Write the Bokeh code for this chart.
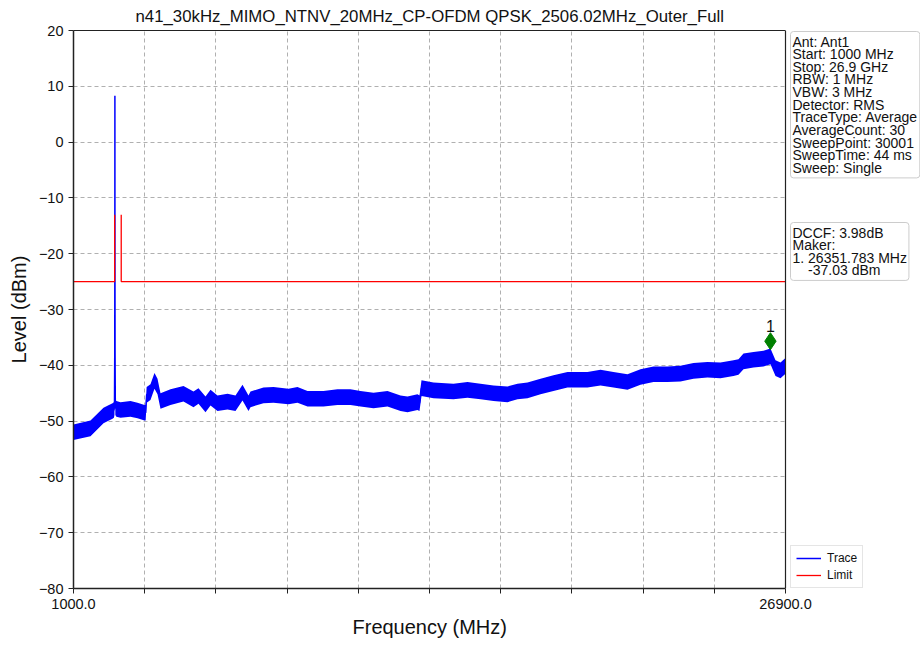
from bokeh.plotting import figure
from bokeh.models import (Range1d, FixedTicker, Label, Legend, LegendItem, ColumnDataSource,
                          LinearAxis, Span, BoxAnnotation, Title)
from bokeh.core.properties import value
from bokeh.embed import file_html
from bokeh.resources import INLINE

# ---------------- data ----------------
title_text = "n41_30kHz_MIMO_NTNV_20MHz_CP-OFDM QPSK_2506.02MHz_Outer_Full"
x_label = "Frequency (MHz)"
y_label = "Level (dBm)"

f_start, f_stop = 1000, 26900
y_min, y_max = -80, 20

trace_freq = [1000, 1618, 2091, 2419, 2470, 2490, 2500, 2504, 2506, 2508, 2512, 2522, 2560,
              2710, 3073, 3328, 3583, 3625, 3660, 3800, 3946, 4056, 4165, 4528, 5001, 5365,
              5547, 5802, 5984, 6238, 6602, 6893, 7148, 7366, 7439, 7911, 8275, 8821, 9148,
              9512, 10094, 10603, 11076, 11440, 11913, 12422, 12895, 13150, 13513, 13586,
              13659, 14095, 14823, 15332, 15805, 16278, 16787, 17151, 17515, 17988, 18460,
              18970, 19697, 20170, 20643, 21152, 21625, 22098, 22607, 23080, 23553, 24062,
              24535, 25008, 25190, 25372, 25736, 26099, 26354, 26536, 26718, 26900]
trace_level = [-52.0, -51.3, -49.0, -48.2, -48.0, -47.5, -38.0, -20.0, 8.3, -20.0, -38.0, -47.5, -47.8,
               -48.0, -47.8, -48.1, -48.5, -48.5, -45.3, -44.8, -42.8, -43.8, -46.4, -45.7, -45.1, -46.1,
               -45.5, -47.0, -45.8, -46.8, -46.5, -46.8, -44.9, -46.8, -46.1, -45.4, -45.3, -45.6, -45.3,
               -46.0, -46.0, -45.7, -45.7, -46.0, -46.3, -46.0, -46.8, -47.0, -46.6, -46.8,
               -44.1, -44.5, -44.7, -44.4, -44.7, -45.0, -45.2, -44.7, -44.5, -43.8, -43.2,
               -42.6, -42.6, -42.2, -42.6, -43.0, -42.1, -41.6, -41.6, -41.5, -41.0, -40.8,
               -40.9, -40.5, -40.3, -39.3, -39.0, -38.8, -38.4, -40.5, -40.9, -40.1]
noise_spread_db = 2.8   # visible peak-to-peak thickness of the noisy trace

limit_freq = [1000, 2496, 2496, float("nan"), 2736, 2736, 26900]
limit_level = [-25, -25, -13, float("nan"), -13, -25, -25]

marker_freq = 26351.783
marker_level = -37.03
marker_name = "1"

x_ticks = [1000, 3590, 6180, 8770, 11360, 13950, 16540, 19130, 21720, 24310, 26900]
x_tick_labels = {1000: "1000.0", 26900: "26900.0"}
y_ticks = [20, 10, 0, -10, -20, -30, -40, -50, -60, -70, -80]

info_lines = ["Ant: Ant1", "Start: 1000 MHz", "Stop: 26.9 GHz", "RBW: 1 MHz", "VBW: 3 MHz",
              "Detector: RMS", "TraceType: Average", "AverageCount: 30", "SweepPoint: 30001",
              "SweepTime: 44 ms", "Sweep: Single"]
marker_lines = ["DCCF: 3.98dB", "Maker:", "1. 26351.783 MHz", "\u00a0\u00a0\u00a0\u00a0-37.03 dBm"]

# ---------------- layout constants ----------------
FONT = "Liberation Sans"
W, H = 920, 649
LEFT, TOP, BOTTOM = 73, 30, 61
PLOT_W = 712                 # width of the axes box (1000..26900 MHz)
FRAME_W = W - LEFT           # frame also hosts the side boxes
FRAME_H = H - TOP - BOTTOM
x_end = f_start + (f_stop - f_start) * FRAME_W / PLOT_W

p = figure(width=W, height=H, output_backend="svg", toolbar_location=None,
           x_range=Range1d(f_start, x_end), y_range=Range1d(y_min, y_max),
           min_border_left=LEFT, min_border_right=0, min_border_top=TOP, min_border_bottom=BOTTOM)
p.background_fill_color = "white"
p.border_fill_color = "white"
p.outline_line_color = None

# title (left-aligned with an offset so it is centred over the axes box)
p.title.text = title_text
p.title.align = "left"
p.title.offset = 62
p.title.text_font = FONT
p.title.text_font_size = "16.8px"
p.title.text_font_style = "normal"
p.title.text_color = "#111111"
p.title.standoff = 9

# axes
SPINE = "#222222"
p.xaxis.ticker = FixedTicker(ticks=x_ticks)
p.xaxis.major_label_overrides = {t: x_tick_labels.get(t, "") for t in x_ticks}
p.xaxis.bounds = (f_start, f_stop)
p.yaxis.ticker = FixedTicker(ticks=y_ticks)
p.yaxis.major_label_overrides = {t: str(t).replace("-", "\u2212") for t in y_ticks}
for ax in (p.xaxis, p.yaxis):
    ax.axis_line_color = SPINE
    ax.axis_line_width = 1.5
    ax.major_tick_line_color = SPINE
    ax.major_tick_out = 5
    ax.major_tick_in = 0
    ax.minor_tick_out = 0
    ax.minor_tick_in = 0
    ax.major_label_text_font = FONT
    ax.major_label_text_font_size = "14.5px"
    ax.major_label_text_color = "#111111"
    ax.axis_label_text_font = FONT
    ax.axis_label_text_font_size = "20px"
    ax.axis_label_text_font_style = "normal"
    ax.axis_label_text_color = "#111111"
    ax.major_label_standoff = 5
p.yaxis.axis_label = y_label
p.yaxis.axis_label_standoff = 6

# x axis label centred under the axes box
p.add_layout(Title(text=x_label, align="left", offset=279, vertical_align="top",
                   text_font=FONT, text_font_size="20px", text_font_style="normal",
                   text_color="#111111", standoff=9), "below")

# top spine (bounded axis without ticks)
top_axis = LinearAxis(ticker=FixedTicker(ticks=[]), bounds=(f_start, f_stop),
                      axis_line_color=SPINE, axis_line_width=1.2,
                      major_tick_out=0, major_tick_in=0, minor_tick_out=0, minor_tick_in=0,
                      major_label_standoff=0)
p.add_layout(top_axis, "above")

for g in (p.xgrid, p.ygrid):
    g.grid_line_color = "#b0b0b0"
    g.grid_line_dash = "4 3"
    g.grid_line_width = 1

# blank the side area right of the axes box (hides grid there)
p.add_layout(BoxAnnotation(left=f_stop, fill_color="white", fill_alpha=1.0,
                           line_color=None, level="glyph"))

# trace (noisy band + center line)
src = ColumnDataSource(dict(
    f=trace_freq, lvl=trace_level,
    lo=[v - noise_spread_db / 2 for v in trace_level],
    hi=[v + noise_spread_db / 2 for v in trace_level]))
p.varea(x="f", y1="lo", y2="hi", source=src, fill_color="#0000ff", fill_alpha=1.0)
trace_r = p.line(x="f", y="lvl", source=src, line_color="#0000ff", line_width=1.5)

# limit
limit_r = p.line(limit_freq, limit_level, line_color="#ff0000", line_width=1.3)

# right spine
p.add_layout(Span(location=f_stop, dimension="height", line_color=SPINE, line_width=1.2))

# marker
p.scatter([marker_freq], [marker_level + 1.35], marker="diamond", size=17,
          fill_color="#008000", line_color="#008000")
p.text([marker_freq], [marker_level + 4.0], text=[marker_name], text_align="center",
       text_baseline="middle", text_font=value(FONT), text_font_size="16px", text_color="#111111")

# info boxes
box_style = dict(x_units="screen", y_units="screen", anchor="top_left",
                 text_font=FONT, text_font_size="14px", text_color="#111111",
                 text_line_height=0.79, padding=2,
                 background_fill_color="white", background_fill_alpha=1.0,
                 border_line_color="#cccccc", border_line_width=1, border_radius=3)
p.add_layout(Label(x=PLOT_W + 5, y=FRAME_H - 1, text="\n".join(info_lines), **box_style))
p.add_layout(Label(x=PLOT_W + 5, y=FRAME_H - 192, text="\n".join(marker_lines), **box_style))

# legend
legend = Legend(items=[LegendItem(label="Trace", renderers=[trace_r]),
                       LegendItem(label="Limit", renderers=[limit_r])],
                location=(PLOT_W + 5, 0), orientation="vertical",
                label_text_font=FONT, label_text_font_size="12px", label_text_color="#111111",
                glyph_width=25, glyph_height=14, label_height=14, spacing=3,
                padding=5, margin=0, label_standoff=6,
                border_line_color="#cccccc", border_line_width=1,
                background_fill_color="white", background_fill_alpha=1.0)
p.add_layout(legend)

open("out.html", "w").write(file_html(p, INLINE))
